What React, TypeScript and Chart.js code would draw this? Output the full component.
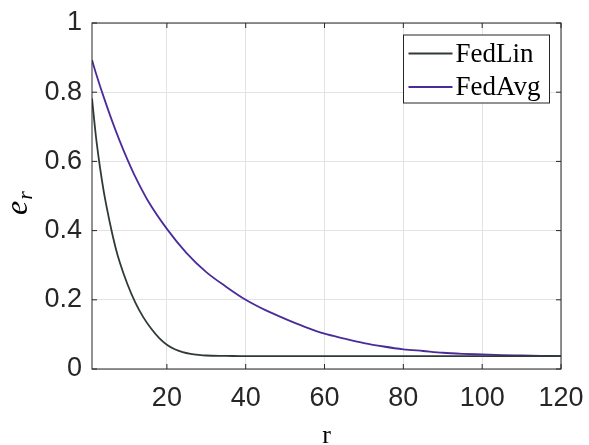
import React, { useEffect, useRef } from "react";
import { Chart, registerables } from "chart.js";

Chart.register(...registerables);

// ---- data ----
const rFedLin = [1, 2, 3, 4, 5, 6, 7, 8, 10, 12, 14, 16, 18, 20, 22, 24, 26, 28, 30, 35, 40, 50, 60, 80, 100, 120];
const eFedLin = [0.782, 0.672, 0.585, 0.512, 0.452, 0.398, 0.35, 0.31, 0.245, 0.192, 0.15, 0.117, 0.09, 0.07, 0.057, 0.049, 0.044, 0.041, 0.039, 0.038, 0.037, 0.037, 0.037, 0.037, 0.037, 0.037];

const rFedAvg = [1, 2, 4, 6, 8, 10, 12, 15, 20, 25, 30, 35, 40, 45, 50, 55, 60, 65, 70, 75, 80, 85, 90, 95, 100, 105, 110, 115, 120];
const eFedAvg = [0.893, 0.855, 0.785, 0.72, 0.66, 0.605, 0.555, 0.49, 0.405, 0.335, 0.28, 0.238, 0.2, 0.17, 0.145, 0.122, 0.102, 0.088, 0.075, 0.065, 0.057, 0.052, 0.047, 0.044, 0.042, 0.04, 0.039, 0.038, 0.037];

const seriesNames = ["FedLin", "FedAvg"];
const xTicks = [20, 40, 60, 80, 100, 120];
const yTicks = [0, 0.2, 0.4, 0.6, 0.8, 1];

const AXIS_COLOR = "#262626";

const framePlugin = {
  id: "frame",
  afterDraw(chart: any) {
    const { ctx, chartArea } = chart;
    const { left, right, top, bottom } = chartArea;
    const xs = chart.scales.x;
    const ys = chart.scales.y;
    ctx.save();
    ctx.strokeStyle = AXIS_COLOR;
    ctx.lineWidth = 1;
    // box
    ctx.strokeRect(left, top, right - left, bottom - top);
    // inward ticks
    const tl = 5;
    ctx.beginPath();
    xTicks.forEach((v) => {
      const px = xs.getPixelForValue(v);
      ctx.moveTo(px, bottom);
      ctx.lineTo(px, bottom - tl);
      ctx.moveTo(px, top);
      ctx.lineTo(px, top + tl);
    });
    yTicks.forEach((v) => {
      const py = ys.getPixelForValue(v);
      ctx.moveTo(left, py);
      ctx.lineTo(left + tl, py);
      ctx.moveTo(right, py);
      ctx.lineTo(right - tl, py);
    });
    ctx.stroke();

    // legend
    const lw = 146;
    const lh = 68;
    const lx = right - 11.5 - lw;
    const ly = top + 12;
    ctx.fillStyle = "#ffffff";
    ctx.fillRect(lx, ly, lw, lh);
    ctx.strokeStyle = AXIS_COLOR;
    ctx.lineWidth = 1;
    ctx.strokeRect(lx, ly, lw, lh);
    ctx.font = "27px 'Liberation Serif', serif";
    ctx.textBaseline = "alphabetic";
    ctx.textAlign = "left";
    chart.data.datasets.forEach((ds: any, i: number) => {
      const cy = ly + 18.5 + i * 33.5;
      ctx.strokeStyle = ds.borderColor;
      ctx.lineWidth = 1.8;
      ctx.beginPath();
      ctx.moveTo(lx + 5, cy);
      ctx.lineTo(lx + 49, cy);
      ctx.stroke();
      ctx.fillStyle = "#000000";
      ctx.fillText(ds.label, lx + 52, cy + 8);
    });

    // y-axis title e_r
    ctx.save();
    ctx.translate(27, (top + bottom) / 2 + 7);
    ctx.rotate(-Math.PI / 2);
    ctx.fillStyle = "#000000";
    ctx.textAlign = "left";
    ctx.textBaseline = "alphabetic";
    ctx.font = "italic 32px 'Liberation Serif', serif";
    const ew = ctx.measureText("e").width;
    ctx.font = "italic 22px 'Liberation Serif', serif";
    const rw = ctx.measureText("r").width;
    const total = ew + rw + 1;
    ctx.font = "italic 32px 'Liberation Serif', serif";
    ctx.fillText("e", -total / 2, 0);
    ctx.font = "italic 22px 'Liberation Serif', serif";
    ctx.fillText("r", -total / 2 + ew + 1, 5);
    ctx.restore();

    ctx.restore();
  },
};

export default function App() {
  const canvasRef = useRef<HTMLCanvasElement | null>(null);

  useEffect(() => {
    if (!canvasRef.current) return;
    const chart = new Chart(canvasRef.current, {
      type: "line",
      data: {
        datasets: [
          {
            label: seriesNames[0],
            data: rFedLin.map((r, i) => ({ x: r, y: eFedLin[i] })),
            borderColor: "#2f3a36",
            borderWidth: 1.8,
            pointRadius: 0,
            cubicInterpolationMode: "monotone",
            fill: false,
          },
          {
            label: seriesNames[1],
            data: rFedAvg.map((r, i) => ({ x: r, y: eFedAvg[i] })),
            borderColor: "#4b2b9a",
            borderWidth: 1.8,
            pointRadius: 0,
            cubicInterpolationMode: "monotone",
            fill: false,
          },
        ],
      },
      options: {
        animation: false,
        responsive: false,
        devicePixelRatio: 1,
        layout: { padding: { top: 23, right: 28, left: 0, bottom: 0 } },
        plugins: {
          legend: { display: false },
          tooltip: { enabled: false },
        },
        scales: {
          x: {
            type: "linear",
            min: 1,
            max: 120,
            afterBuildTicks: (s: any) => {
              s.ticks = xTicks.map((v) => ({ value: v }));
            },
            afterFit: (s: any) => {
              s.height = 76;
              s.paddingLeft = 0;
              s.paddingRight = 0;
            },
            grid: { color: "#e3e3e3", lineWidth: 1, drawTicks: false },
            border: { display: false },
            ticks: {
              color: AXIS_COLOR,
              font: { family: "'Liberation Sans', Arial, sans-serif", size: 27 },
              padding: 13,
              maxRotation: 0,
              autoSkip: false,
            },
            title: {
              display: true,
              text: "r",
              color: "#000000",
              font: { family: "'Liberation Serif', serif", size: 26 },
              padding: { top: 0, bottom: -7 },
            },
          },
          y: {
            type: "linear",
            min: 0,
            max: 1,
            afterBuildTicks: (s: any) => {
              s.ticks = yTicks.map((v) => ({ value: v }));
            },
            afterFit: (s: any) => {
              s.width = 92;
              s.paddingTop = 0;
              s.paddingBottom = 0;
            },
            grid: { color: "#e3e3e3", lineWidth: 1, drawTicks: false },
            border: { display: false },
            ticks: {
              color: AXIS_COLOR,
              font: { family: "'Liberation Sans', Arial, sans-serif", size: 27 },
              padding: 10,
              callback: (v: any) => String(v),
            },
          },
        },
      },
      plugins: [framePlugin],
    });
    return () => chart.destroy();
  }, []);

  return (
    <div style={{ position: "fixed", left: 0, top: 0, width: 589, height: 445, background: "#fff" }}>
      <canvas ref={canvasRef} width={589} height={445} style={{ display: "block" }} />
    </div>
  );
}
